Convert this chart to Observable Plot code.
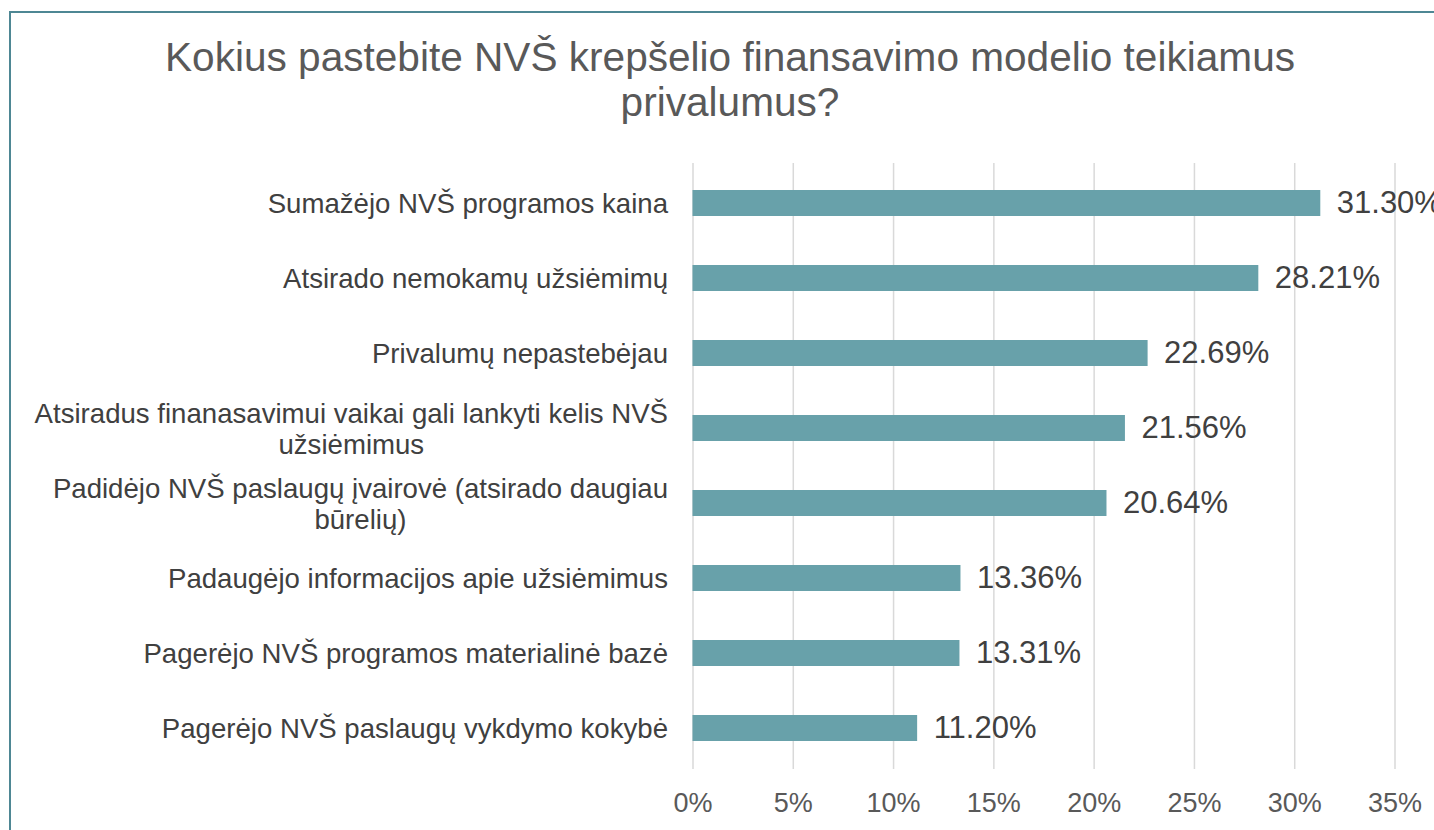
<!DOCTYPE html>
<html>
<head>
<meta charset="utf-8">
<script src="https://cdn.jsdelivr.net/npm/d3@7"></script>
<script src="https://cdn.jsdelivr.net/npm/@observablehq/plot@0.6"></script>
<style>
  html, body { margin: 0; padding: 0; background: #fff; }
  #wrap { position: relative; width: 1434px; height: 830px; overflow: hidden; font-family: "Liberation Sans", Arial, sans-serif; }
  #frame { position: absolute; left: 9px; top: 11px; width: 1500px; height: 900px; border-top: 2px solid #4e8794; border-left: 2px solid #4e8794; box-sizing: border-box; }
  #title { position: absolute; left: 0; width: 1460px; top: 35px; text-align: center; font-size: 40.6px; line-height: 45px; color: #595959; }
  #chart { position: absolute; left: 0; top: 0; }
</style>
</head>
<body>
<div id="wrap">
  <div id="frame"></div>
  <div id="chart"></div>
  <div id="title">Kokius pastebite NVŠ krepšelio finansavimo modelio teikiamus<br>privalumus?</div>
</div>
<script>
const categories = [
  "Sumažėjo NVŠ programos kaina",
  "Atsirado nemokamų užsiėmimų",
  "Privalumų nepastebėjau",
  "Atsiradus finanasavimui vaikai gali lankyti kelis NVŠ\nužsiėmimus",
  "Padidėjo NVŠ paslaugų įvairovė (atsirado daugiau\nbūrelių)",
  "Padaugėjo informacijos apie užsiėmimus",
  "Pagerėjo NVŠ programos materialinė bazė",
  "Pagerėjo NVŠ paslaugų vykdymo kokybė"
];
const values = [31.30, 28.21, 22.69, 21.56, 20.64, 13.36, 13.31, 11.20];
const xTicks = [0, 5, 10, 15, 20, 25, 30, 35];

const data = categories.map((c, i) => ({category: c, value: values[i]}));

const catFont = 27.6;
const catFontFamily = '"Liberation Sans", Arial, sans-serif';
const ctx = document.createElement("canvas").getContext("2d");
ctx.font = `${catFont}px ${catFontFamily}`;
const gap = 25;

const labelMarks = data.map(d => {
  const lines = d.category.split("\n");
  const w = Math.max(...lines.map(l => ctx.measureText(l).width));
  const multi = lines.length > 1;
  return Plot.text([d], {
    y: "category",
    text: "category",
    frameAnchor: "left",
    textAnchor: multi ? "middle" : "end",
    dx: multi ? -(gap + w / 2) : -gap,
    lineHeight: 1.13,
    fontSize: catFont,
    fill: "#404040"
  });
});

const chart = Plot.plot({
  width: 1434,
  height: 830,
  marginLeft: 692.5,
  marginRight: 39.5,
  marginTop: 163,
  marginBottom: 61,
  style: {background: "transparent", fontFamily: catFontFamily, overflow: "visible"},
  x: {domain: [0, 35], label: null},
  y: {domain: categories, paddingInner: 0.648, paddingOuter: 0.324, label: null, axis: null},
  marks: [
    Plot.gridX(xTicks, {stroke: "#d9d9d9", strokeOpacity: 1, strokeWidth: 1.5}),
    Plot.axisX({ticks: xTicks, tickFormat: d => d + "%", tickSize: 0, tickPadding: 23, fontSize: 27, fill: "#595959", label: null}),
    Plot.barX(data, {x: "value", y: "category", fill: "#68a1aa"}),
    Plot.text(data, {x: "value", y: "category", text: d => d.value.toFixed(2) + "%", textAnchor: "start", dx: 16, fontSize: 31, fill: "#404040"}),
    ...labelMarks
  ]
});
document.getElementById("chart").appendChild(chart);
</script>
</body>
</html>
